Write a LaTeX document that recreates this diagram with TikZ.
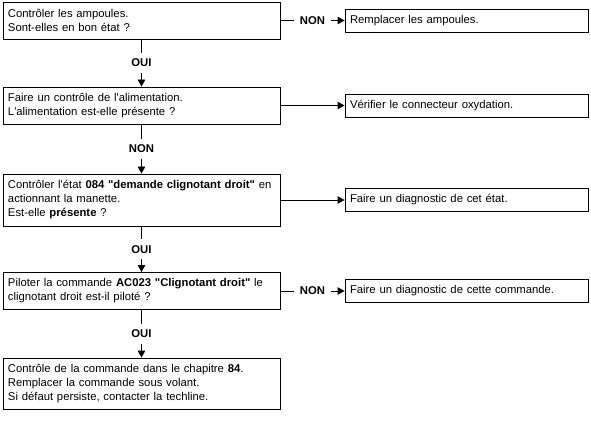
\documentclass[tikz,border=0pt]{standalone}
\usepackage{fontspec}
\newfontfamily\arial{Liberation Sans}
\usetikzlibrary{arrows.meta}
\newcommand{\ftxt}{\arial\fontsize{11.3}{14}\selectfont}

\begin{document}
\begin{tikzpicture}[x=1pt,y=-1pt,
		boite/.style={draw,line width=0.9pt,inner xsep=5pt,inner ysep=6pt,align=left,font=\ftxt},
		gauche/.style={boite,text width=267pt,minimum height=37pt},
		droite/.style={boite,text width=233pt,minimum height=23pt},
		fleche/.style={line width=0.9pt,-{Triangle[length=7pt,width=7.5pt]}},
		etiq/.style={fill=white,inner sep=6pt,font=\ftxt\bfseries}]
		\useasboundingbox (0,0) rectangle (591,422);
		
		\node[gauche] (ampoules) at (141.5,20.5){Contrôler les ampoules.\\Sont-elles en bon état ?};
		\node[gauche] (alim) at (141.5,105.5){Faire un contrôle de l'alimentation.\\L'alimentation est-elle présente ?};
		\node[gauche,minimum height=52pt] (etat) at (141.5,200){\mbox{Contrôler l'état \textbf{084 "demande clignotant droit"} en}\\actionnant la manette.\\Est-elle \textbf{présente} ?};
		\node[gauche] (piloter) at (141.5,291){Piloter la commande \textbf{AC023 "Clignotant droit"} le\\clignotant droit est-il piloté ?};
		\node[gauche,minimum height=51pt] (chapitre) at (141.5,383.5){Contrôle de la commande dans le chapitre \textbf{84}.\\Remplacer la commande sous volant.\\Si défaut persiste, contacter la techline.};
		
		\node[droite] (remplacer) at (466.5,20.5){Remplacer les ampoules.};
		\node[droite] (connecteur) at (466.5,105.5){Vérifier le connecteur oxydation.};
		\node[droite] (diagetat) at (466.5,200){Faire un diagnostic de cet état.};
		\node[droite] (diagcmd) at (466.5,291){Faire un diagnostic de cette commande.};
		
		\draw[fleche] (ampoules) -- node[etiq]{OUI} (alim);
		\draw[fleche] (alim) -- node[etiq]{NON} (etat);
		\draw[fleche] (etat) -- node[etiq]{OUI} (piloter);
		\draw[fleche] (piloter) -- node[etiq]{OUI} (chapitre);
		
		\draw[fleche] (ampoules) -- node[etiq]{NON} (remplacer);
		\draw[fleche] (alim) -- (connecteur);
		\draw[fleche] (etat) -- (diagetat);
		\draw[fleche] (piloter) -- node[etiq]{NON} (diagcmd);
	\end{tikzpicture}
\end{document}
